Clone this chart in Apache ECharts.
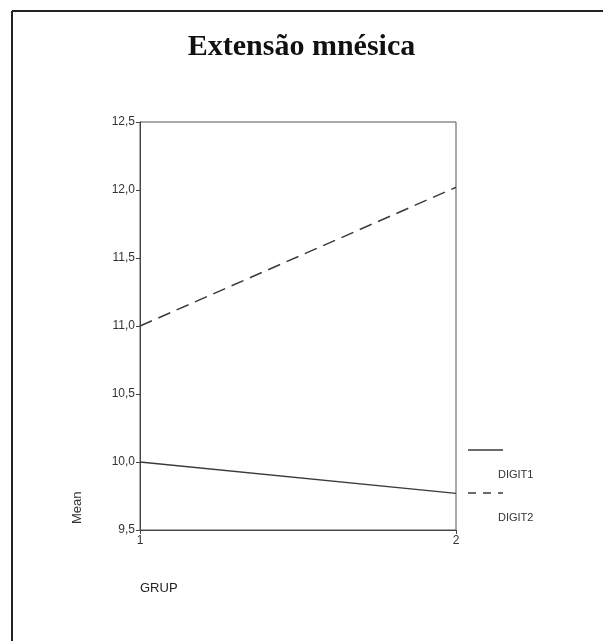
<!DOCTYPE html>
<html>
<head>
<meta charset="utf-8">
<script src="https://cdn.jsdelivr.net/npm/echarts@6/dist/echarts.min.js"></script>
<style>
  html, body { margin: 0; padding: 0; background: #fff; }
  #myChart { width: 603px; height: 641px; }
</style>
</head>
<body>
<div id="myChart"></div>
<script>
var categories = ['1', '2'];
var seriesNames = ['DIGIT1', 'DIGIT2'];
var digit1 = [10.0, 9.77];
var digit2 = [11.0, 12.02];
var yTicks = [9.5, 10.0, 10.5, 11.0, 11.5, 12.0, 12.5];

(function () {
  let canvas = document.getElementById('myChart');
  let myChart = echarts.init(canvas);
  let lineColor = '#3a3a3a';
  let option = {
    animation: false,
    title: {
      text: 'Extensão mnésica',
      left: 'center',
      top: 27,
      textStyle: {
        fontFamily: 'Liberation Serif',
        fontWeight: 'bold',
        fontSize: 30,
        color: '#111'
      }
    },
    grid: {
      left: 140,
      right: 147,
      top: 122,
      bottom: 111,
      show: true,
      borderColor: '#555',
      borderWidth: 1
    },
    xAxis: {
      type: 'category',
      data: categories,
      boundaryGap: false,
      name: 'GRUP',
      nameLocation: 'start',
      nameGap: 0,
      nameTextStyle: {
        fontFamily: 'Liberation Sans',
        fontSize: 13,
        color: '#222',
        align: 'left',
        verticalAlign: 'top',
        padding: [52, 0, 0, 0]
      },
      axisLine: { lineStyle: { color: '#444' } },
      axisTick: { show: true, alignWithLabel: true, length: 4, lineStyle: { color: '#444' } },
      axisLabel: {
        fontFamily: 'Liberation Sans',
        fontSize: 12,
        color: '#333',
        margin: 5
      },
      splitLine: { show: false }
    },
    yAxis: {
      type: 'value',
      min: yTicks[0],
      max: yTicks[yTicks.length - 1],
      interval: 0.5,
      name: 'Mean',
      nameLocation: 'start',
      nameRotate: 90,
      nameGap: 0,
      nameTextStyle: {
        fontFamily: 'Liberation Sans',
        fontSize: 13,
        color: '#333',
        align: 'left',
        verticalAlign: 'bottom',
        padding: [0, 0, 56, 6]
      },
      axisLine: { show: true, lineStyle: { color: '#444' } },
      axisTick: { show: true, length: 4, lineStyle: { color: '#444' } },
      axisLabel: {
        fontFamily: 'Liberation Sans',
        fontSize: 12,
        color: '#333',
        margin: 5,
        formatter: function (v) { return v.toFixed(1).replace('.', ','); }
      },
      splitLine: { show: false }
    },
    series: [
      {
        name: seriesNames[0],
        type: 'line',
        data: digit1,
        symbol: 'none',
        lineStyle: { color: lineColor, width: 1.3 }
      },
      {
        name: seriesNames[1],
        type: 'line',
        data: digit2,
        symbol: 'none',
        lineStyle: { color: lineColor, width: 1.5, type: [13, 7] }
      }
    ],
    graphic: [
      // page frame (top and left edges only)
      { type: 'line', shape: { x1: 12, y1: 11, x2: 603, y2: 11 }, style: { stroke: '#222', lineWidth: 2 } },
      { type: 'line', shape: { x1: 12, y1: 11, x2: 12, y2: 641 }, style: { stroke: '#222', lineWidth: 2 } },
      // legend
      { type: 'line', shape: { x1: 468, y1: 450, x2: 503, y2: 450 }, style: { stroke: lineColor, lineWidth: 1.3 } },
      { type: 'text', left: 498, top: 469, style: { text: seriesNames[0], font: '11px "Liberation Sans"', fill: '#333' } },
      { type: 'line', shape: { x1: 468, y1: 493, x2: 503, y2: 493 }, style: { stroke: lineColor, lineWidth: 1.3, lineDash: [8, 7] } },
      { type: 'text', left: 498, top: 512, style: { text: seriesNames[1], font: '11px "Liberation Sans"', fill: '#333' } }
    ]
  };

  myChart.setOption(option);
})();
</script>
</body>
</html>
